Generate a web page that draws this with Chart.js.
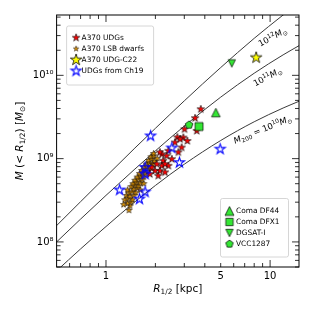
<!DOCTYPE html>
<html>
<head>
<meta charset="utf-8">
<script src="https://cdn.jsdelivr.net/npm/chart.js@4.4.1/dist/chart.umd.min.js"></script>
<style>
  html, body { margin: 0; padding: 0; background: #fff; }
  canvas { display: block; }
</style>
</head>
<body>
<canvas id="grafico" width="315" height="315"></canvas>
<script>
// ================= DATOS =================
// curvas M(<r) para halos NFW
const curvaR = [0.5, 0.7, 1, 1.5, 2, 3, 5, 8, 12, 15];
const curvaM10 = [4.49e7, 8.24e7, 1.53e8, 3.03e8, 4.76e8, 8.57e8, 1.65e9, 2.77e9, 4.05e9, 4.88e9];
const curvaM11 = [1.0e8, 1.88e8, 3.62e8, 7.5e8, 1.24e9, 2.46e9, 5.47e9, 1.06e10, 1.76e10, 2.27e10];
const curvaM12 = [1.57e8, 3.04e8, 6.10e8, 1.34e9, 2.31e9, 4.94e9, 1.24e10, 2.78e10, 5.30e10, 7.41e10];

// A370 UDGs
const udgR = [3.78, 3.49, 3.57, 3.01, 2.96, 2.72, 2.63, 3.13, 2.89, 2.76, 2.40, 2.34, 2.19, 2.52,
              2.23, 2.40, 2.19, 2.04, 2.13, 1.99, 2.08, 2.29, 2.13, 1.90, 1.85, 2.29, 2.83];
const udgM = [3.92e9, 3.06e9, 2.15e9, 2.25e9, 1.79e9, 1.80e9, 1.56e9, 1.63e9, 1.36e9, 1.19e9, 1.24e9, 1.08e9, 1.13e9, 9.86e8,
              9.42e8, 8.20e8, 8.20e8, 8.59e8, 7.14e8, 7.14e8, 6.22e8, 6.84e8, 1.19e9, 7.85e8, 6.52e8, 8.59e8, 1.71e9];

// A370 LSB dwarfs
const lsbR = [1.38, 1.40, 1.35, 1.42, 1.30, 1.36, 1.45, 1.33, 1.40, 1.48, 1.38, 1.44, 1.52, 1.35, 1.47, 1.55, 1.42,
              1.50, 1.58, 1.46, 1.53, 1.62, 1.50, 1.58, 1.66, 1.55, 1.63, 1.70, 1.60, 1.68, 1.75, 1.65, 1.73, 1.80,
              1.70, 1.78, 1.86, 1.76, 1.84, 1.92, 1.82, 1.90, 1.98, 1.88, 1.96, 2.05, 1.95, 1.62, 1.70, 1.28];
const lsbM = [2.4e8, 2.7e8, 2.9e8, 3.0e8, 3.2e8, 3.3e8, 3.2e8, 3.6e8, 3.5e8, 3.6e8, 3.9e8, 4.0e8, 3.9e8, 4.2e8, 4.3e8, 4.4e8, 4.6e8,
              4.8e8, 4.7e8, 5.0e8, 5.2e8, 5.1e8, 5.5e8, 5.7e8, 5.6e8, 6.0e8, 6.2e8, 6.0e8, 6.6e8, 6.8e8, 6.6e8, 7.2e8, 7.4e8, 7.0e8,
              7.9e8, 8.1e8, 7.8e8, 8.6e8, 8.9e8, 8.5e8, 9.5e8, 9.8e8, 9.3e8, 1.05e9, 1.08e9, 1.0e9, 1.15e9, 4.2e8, 5.0e8, 2.8e8];

// UDGs de Ch19
const ch19R = [1.87, 2.52, 2.80, 4.96, 1.73, 1.73, 1.21, 1.73, 1.60];
const ch19M = [1.87e9, 1.34e9, 8.96e8, 1.30e9, 7.83e8, 6.5e8, 4.2e8, 3.97e8, 3.27e8];

// objetos individuales
const c22 = { r: 8.22, m: 1.63e10 };
const df44 = { r: 4.67, m: 3.57e9 };
const dfx1 = { r: 3.69, m: 2.43e9 };
const dgsat = { r: 5.84, m: 1.39e10 };
const vcc1287 = { r: 3.21, m: 2.54e9 };

// ejes
const xTicks = [1, 5, 10];
const xTickLabels = ["1", "5", "10"];
const yTicks = [1e8, 1e9, 1e10];
const yTickLabels = ["10\u2078", "10\u2079", "10\u00b9\u2070"];

// ================= MARCADORES =================
function marcador(forma, r, relleno, borde, lw) {
  const pad = Math.ceil(lw) + 1;
  const size = Math.ceil(2 * r + 2 * pad);
  const c = document.createElement("canvas");
  c.width = c.height = size;
  const ctx = c.getContext("2d");
  const cx = size / 2, cy = size / 2;
  ctx.beginPath();
  if (forma === "star" || forma === "pent") {
    const n = forma === "star" ? 10 : 5;
    for (let i = 0; i < n; i++) {
      const rr = (forma === "star" && i % 2) ? r * 0.382 : r;
      const a = -Math.PI / 2 + i * 2 * Math.PI / n;
      ctx.lineTo(cx + rr * Math.cos(a), cy + rr * Math.sin(a));
    }
  } else if (forma === "tri") {
    ctx.moveTo(cx, cy - r); ctx.lineTo(cx - r, cy + r); ctx.lineTo(cx + r, cy + r);
  } else if (forma === "trid") {
    ctx.moveTo(cx, cy + r); ctx.lineTo(cx - r, cy - r); ctx.lineTo(cx + r, cy - r);
  } else if (forma === "sq") {
    ctx.rect(cx - r, cy - r, 2 * r, 2 * r);
  }
  ctx.closePath();
  if (relleno) { ctx.fillStyle = relleno; ctx.fill(); }
  ctx.lineJoin = "miter";
  ctx.lineWidth = lw;
  ctx.strokeStyle = borde;
  ctx.stroke();
  return c;
}

const VERDE = "#33e633";
const mk = {
  udg: marcador("star", 4.0, "#ff0000", "#000", 0.6),
  lsb: marcador("star", 3.2, "#e89a00", "#2a1a00", 0.7),
  ch19: marcador("star", 5.3, null, "#0000ff", 1.1),
  c22: marcador("star", 6.0, "#ffff00", "#000", 0.8),
  df44: marcador("tri", 4.3, VERDE, "#000", 0.7),
  dfx1: marcador("sq", 4.0, VERDE, "#000", 0.7),
  dgsat: marcador("trid", 3.7, VERDE, "#000", 0.7),
  vcc: marcador("pent", 4.0, VERDE, "#000", 0.7),
  lsbL: marcador("star", 2.8, "#e89a00", "#2a1a00", 0.6),
  df44L: marcador("tri", 4.5, VERDE, "#000", 0.7),
  dfx1L: marcador("sq", 3.7, VERDE, "#000", 0.7),
  dgsatL: marcador("trid", 3.7, VERDE, "#000", 0.7),
  vccL: marcador("pent", 3.9, VERDE, "#000", 0.7)
};

const pares = (xs, ys) => xs.map((x, i) => ({ x, y: ys[i] }));

// ================= TEXTO CON SUB/SUPERINDICES =================
const FAM = "'DejaVu Sans', sans-serif";
function textoRico(ctx, partes, x, y, tam, angulo, alinear) {
  const fuente = p => `${p.it ? "italic " : ""}${(p.sub || p.sup) ? tam * 0.7 : tam}px ${FAM}`;
  let ancho = 0;
  partes.forEach(p => { ctx.font = fuente(p); p.w = ctx.measureText(p.t).width; ancho += p.w; });
  ctx.save();
  ctx.translate(x, y);
  ctx.rotate(-angulo * Math.PI / 180);
  ctx.fillStyle = "#000";
  ctx.textBaseline = "alphabetic";
  ctx.textAlign = "left";
  let cx = alinear === "left" ? 0 : -ancho / 2;
  const base = tam * 0.36;
  partes.forEach(p => {
    ctx.font = fuente(p);
    let dy = base;
    if (p.sub) dy += tam * 0.22;
    if (p.sup) dy -= tam * 0.4;
    ctx.fillText(p.t, cx, dy);
    cx += p.w;
  });
  ctx.restore();
}

const etiquetasCurvas = [
  { r: 10.33, m: 2.9e10, ang: 28, partes: [{ t: "10" }, { t: "12", sup: true }, { t: "M", it: true }, { t: "\u2299", sub: true }] },
  { r: 9.63, m: 9.65e9, ang: 28, partes: [{ t: "10" }, { t: "11", sup: true }, { t: "M", it: true }, { t: "\u2299", sub: true }] },
  { r: 8.98, m: 2.25e9, ang: 22, partes: [{ t: "M", it: true }, { t: "200", sub: true }, { t: " = 10" }, { t: "10", sup: true }, { t: "M", it: true }, { t: "\u2299", sub: true }] }
];

const leyenda1 = [
  { img: mk.udg, texto: "A370 UDGs" },
  { img: mk.lsbL, texto: "A370 LSB dwarfs" },
  { img: mk.c22, texto: "A370 UDG-C22" },
  { img: mk.ch19, texto: "UDGs from Ch19" }
];
const leyenda2 = [
  { img: mk.df44L, texto: "Coma DF44" },
  { img: mk.dfx1L, texto: "Coma DFX1" },
  { img: mk.dgsatL, texto: "DGSAT-I" },
  { img: mk.vccL, texto: "VCC1287" }
];

function dibujarLeyenda(ctx, items, caja, mx, tx, y0, dy) {
  ctx.save();
  ctx.beginPath();
  ctx.roundRect(caja[0], caja[1], caja[2], caja[3], 2);
  ctx.fillStyle = "rgba(255,255,255,0.9)";
  ctx.fill();
  ctx.lineWidth = 0.8;
  ctx.strokeStyle = "#cccccc";
  ctx.stroke();
  ctx.font = `7.4px ${FAM}`;
  ctx.fillStyle = "#000";
  ctx.textBaseline = "middle";
  items.forEach((it, i) => {
    const y = y0 + i * dy;
    ctx.drawImage(it.img, mx - it.img.width / 2, y - it.img.height / 2);
    ctx.fillText(it.texto, tx, y + 0.5);
  });
  ctx.restore();
}

// ================= PLUGIN DECORACION =================
const decoracion = {
  id: "decoracion",
  afterDatasetsDraw(chart) {
    const ctx = chart.ctx;
    const sx = chart.scales.x, sy = chart.scales.y;
    etiquetasCurvas.forEach(e => {
      textoRico(ctx, e.partes, sx.getPixelForValue(e.r), sy.getPixelForValue(e.m), 8.5, e.ang, "center");
    });
  },
  afterDraw(chart) {
    const ctx = chart.ctx;
    const a = chart.chartArea;
    const sx = chart.scales.x, sy = chart.scales.y;
    ctx.save();
    ctx.strokeStyle = "#000";
    // ticks hacia dentro en los cuatro lados
    ctx.lineWidth = 0.8;
    const xMay = [1, 10];
    const xMen = [0.6, 0.7, 0.8, 0.9, 2, 3, 4, 5, 6, 7, 8, 9];
    const yMay = [1e8, 1e9, 1e10];
    const yMen = [];
    [1e7, 1e8, 1e9, 1e10].forEach(d => { for (let k = 2; k <= 9; k++) yMen.push(k * d); });
    const tickX = (v, len) => {
      const p = sx.getPixelForValue(v);
      if (p < a.left || p > a.right) return;
      ctx.beginPath();
      ctx.moveTo(p, a.bottom); ctx.lineTo(p, a.bottom - len);
      ctx.moveTo(p, a.top); ctx.lineTo(p, a.top + len);
      ctx.stroke();
    };
    const tickY = (v, len) => {
      const p = sy.getPixelForValue(v);
      if (p < a.top || p > a.bottom) return;
      ctx.beginPath();
      ctx.moveTo(a.left, p); ctx.lineTo(a.left + len, p);
      ctx.moveTo(a.right, p); ctx.lineTo(a.right - len, p);
      ctx.stroke();
    };
    xMay.forEach(v => tickX(v, 7));
    xMen.forEach(v => tickX(v, 4));
    yMay.forEach(v => tickY(v, 7));
    yMen.forEach(v => tickY(v, 4));
    // marco
    ctx.lineWidth = 1;
    ctx.strokeRect(a.left, a.top, a.right - a.left, a.bottom - a.top);
    ctx.restore();

    // leyendas
    dibujarLeyenda(ctx, leyenda1, [a.left + 10, a.top + 11, 87, 59], a.left + 19.5, a.left + 25, a.top + 22.7, 11.1);
    dibujarLeyenda(ctx, leyenda2, [a.right - 78.5, a.bottom - 68.5, 68, 58.5], a.right - 69.5, a.right - 63, a.bottom - 56, 11);

    // titulos de ejes
    textoRico(ctx, [{ t: "R", it: true }, { t: "1/2", sub: true }, { t: " [kpc]" }],
      (a.left + a.right) / 2, 288, 10.5, 0, "center");
    textoRico(ctx, [{ t: "M", it: true }, { t: " (< " }, { t: "R", it: true }, { t: "1/2", sub: true }, { t: ") [" },
      { t: "M", it: true }, { t: "\u2299", sub: true }, { t: "]" }],
      19, (a.top + a.bottom) / 2, 10.5, 90, "center");
  }
};

// ================= GRAFICO =================
const linea = (ys, etiqueta) => ({
  label: etiqueta,
  data: pares(curvaR, ys),
  showLine: true,
  borderColor: "#3a3a3a",
  borderWidth: 1,
  pointRadius: 0,
  cubicInterpolationMode: "monotone",
  order: 10
});
const puntos = (etiqueta, datos, img, orden) => ({
  label: etiqueta,
  data: datos,
  pointStyle: img,
  pointRadius: 4,
  order: orden
});

new Chart(document.getElementById("grafico"), {
  type: "scatter",
  data: {
    datasets: [
      linea(curvaM10, "M200 = 1e10"),
      linea(curvaM11, "M200 = 1e11"),
      linea(curvaM12, "M200 = 1e12"),
      puntos("A370 LSB dwarfs", pares(lsbR, lsbM), mk.lsb, 6),
      puntos("A370 UDGs", pares(udgR, udgM), mk.udg, 5),
      puntos("UDGs from Ch19", pares(ch19R, ch19M), mk.ch19, 4),
      puntos("Coma DF44", [{ x: df44.r, y: df44.m }], mk.df44, 3),
      puntos("Coma DFX1", [{ x: dfx1.r, y: dfx1.m }], mk.dfx1, 3),
      puntos("DGSAT-I", [{ x: dgsat.r, y: dgsat.m }], mk.dgsat, 3),
      puntos("VCC1287", [{ x: vcc1287.r, y: vcc1287.m }], mk.vcc, 3),
      puntos("A370 UDG-C22", [{ x: c22.r, y: c22.m }], mk.c22, 2)
    ]
  },
  options: {
    responsive: false,
    animation: false,
    events: [],
    layout: { padding: { left: 0, right: 16, top: 15, bottom: 0 } },
    plugins: { legend: { display: false }, tooltip: { enabled: false } },
    scales: {
      x: {
        type: "logarithmic",
        min: 0.5, max: 15,
        grid: { display: false, drawTicks: false },
        border: { display: false },
        ticks: {
          color: "#000", font: { family: "DejaVu Sans", size: 10 }, padding: 3,
          maxRotation: 0, autoSkip: false,
          callback: v => xTickLabels[xTicks.indexOf(v)]
        },
        afterBuildTicks: s => { s.ticks = xTicks.map(v => ({ value: v })); },
        afterFit: s => { s.height = 48; }
      },
      y: {
        type: "logarithmic",
        min: 5e7, max: 5.3e10,
        grid: { display: false, drawTicks: false },
        border: { display: false },
        ticks: {
          color: "#000", font: { family: "DejaVu Sans", size: 10 }, padding: 3,
          autoSkip: false,
          callback: v => yTickLabels[yTicks.indexOf(v)]
        },
        afterBuildTicks: s => { s.ticks = yTicks.map(v => ({ value: v })); },
        afterFit: s => { s.width = 56.6; }
      }
    }
  },
  plugins: [decoracion]
});
</script>
</body>
</html>
